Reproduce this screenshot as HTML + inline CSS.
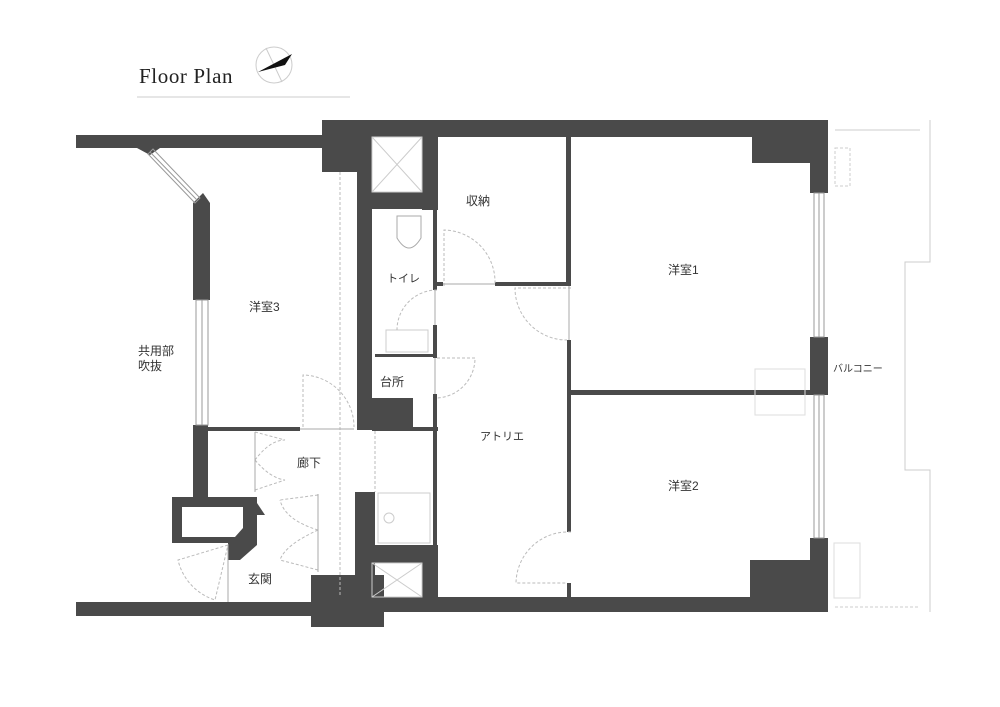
<!DOCTYPE html>
<html><head><meta charset="utf-8"><style>
html,body{margin:0;padding:0;background:#fff;}
svg{display:block}
text{font-family:"Liberation Sans","Noto Sans CJK JP",sans-serif;font-size:12px;fill:#333}
</style></head><body>
<svg width="1000" height="707" viewBox="0 0 1000 707" xmlns="http://www.w3.org/2000/svg">
<!-- title -->
<text x="139" y="83" style="font-family:'Liberation Serif',serif;font-size:21px;letter-spacing:0.6px;fill:#222">Floor Plan</text>
<line x1="137" y1="97" x2="350" y2="97" stroke="#ddd" stroke-width="1.5"/>
<circle cx="274" cy="65" r="18" fill="none" stroke="#ccc"/>
<line x1="266" y1="48" x2="282" y2="82" stroke="#ccc"/>
<polygon points="258,72 292,54 285,65" fill="#111"/>

<g fill="#4a4a4a">
<rect x="76" y="135" width="250" height="13"/>
<polygon points="137,148 160,148 150,155"/>
<polygon points="193,203 203,193 210,203 210,300 193,300"/>
<rect x="193" y="425" width="15" height="72"/>
<path d="M172,497 H257 V545 L240,560 H228 V543 H172 Z M182,507 V537 H235 L243,528 V507 Z" fill-rule="evenodd"/>
<polygon points="257,503 265,515 257,515"/>
<rect x="76" y="602" width="240" height="14"/>
<rect x="311" y="575" width="73" height="52"/>
<rect x="384" y="597" width="444" height="15"/>
<rect x="322" y="120" width="506" height="17"/>
<rect x="322" y="137" width="35" height="35"/>
<rect x="357" y="137" width="15" height="293"/>
<rect x="422" y="137" width="16" height="73"/>
<rect x="372" y="192" width="66" height="17"/>
<rect x="372" y="398" width="41" height="30"/>
<rect x="355" y="492" width="20" height="100"/>
<rect x="372" y="545" width="66" height="18"/>
<rect x="422" y="545" width="16" height="55"/>
<rect x="752" y="137" width="76" height="26"/>
<rect x="810" y="137" width="18" height="56"/>
<rect x="810" y="337" width="18" height="58"/>
<rect x="810" y="538" width="18" height="62"/>
<rect x="750" y="560" width="78" height="40"/>
<rect x="566" y="137" width="5" height="148"/>
<rect x="495" y="282" width="76" height="4"/>
<rect x="437" y="282" width="6" height="4"/>
<rect x="567" y="340" width="4" height="192"/>
<rect x="567" y="583" width="4" height="15"/>
<rect x="571" y="390" width="239" height="5"/>
<rect x="433" y="210" width="4" height="80"/>
<rect x="433" y="325" width="4" height="33"/>
<rect x="433" y="394" width="4" height="34"/>
<rect x="375" y="354" width="58" height="3"/>
<rect x="208" y="427" width="92" height="4"/>
<rect x="372" y="427" width="66" height="4"/>
<rect x="433" y="431" width="4" height="166"/>
</g>
<g fill="none" stroke="#999" stroke-width="1">
<rect x="196" y="300" width="12" height="125"/>
<line x1="202" y1="300" x2="202" y2="425"/>
<rect x="814" y="193" width="10" height="144"/>
<line x1="819" y1="193" x2="819" y2="337"/>
<rect x="814" y="395" width="10" height="143"/>
<line x1="819" y1="395" x2="819" y2="538"/>
<polygon points="148,154 153,149 200,198 195,203"/>
<line x1="150" y1="152" x2="197" y2="200"/>
<rect x="372" y="137" width="50" height="55" stroke="#ccc"/>
<line x1="372" y1="137" x2="422" y2="192" stroke="#ccc"/><line x1="422" y1="137" x2="372" y2="192" stroke="#ccc"/>
<rect x="372" y="563" width="50" height="34" stroke="#ccc"/>
<line x1="372" y1="563" x2="422" y2="597" stroke="#ccc"/><line x1="422" y1="563" x2="372" y2="597" stroke="#ccc"/>
<path d="M397,216 H421 V238 Q409,258 397,238 Z" stroke="#aaa"/>
<rect x="386" y="330" width="42" height="22" stroke="#ccc"/>
<rect x="378" y="493" width="52" height="50" stroke="#ccc"/>
<circle cx="389" cy="518" r="5" stroke="#ccc"/>
<polyline points="835,130 920,130" stroke="#ccc"/>
<polyline points="930,120 930,262 905,262 905,470 930,470 930,612" stroke="#ccc"/>
<line x1="835" y1="607" x2="920" y2="607" stroke="#ccc" stroke-dasharray="3,2"/>
<rect x="835" y="148" width="15" height="38" stroke="#ccc" stroke-dasharray="3,2"/>
<rect x="834" y="543" width="26" height="55" stroke="#ddd"/>
<rect x="755" y="369" width="50" height="46" stroke="#ddd"/>
<g stroke="#bbb" stroke-dasharray="3,2">
<path d="M444,286 V230 A52,52 0 0 1 495,283"/>
<path d="M571,288 H515 A52,52 0 0 0 567,340"/>
<path d="M571,532 A52,52 0 0 0 516,583 H567"/>
<path d="M437,358 H475 A40,40 0 0 1 437,398"/>
<path d="M437,290 A40,40 0 0 0 397,330"/>
<path d="M303,427 V375 A52,52 0 0 1 354,427"/>
<path d="M255,432 L285,440 M255,490 L285,480 M255,460 Q270,440 285,440 M255,460 Q270,478 285,480"/>
<path d="M318,495 L280,500 M318,570 L280,560 M318,530 Q285,520 280,500 M318,530 Q285,545 280,560"/>
<path d="M228,545 L178,560 A55,55 0 0 0 215,600 Z"/>
<line x1="340" y1="172" x2="340" y2="597"/>
<line x1="375" y1="431" x2="375" y2="492"/>
</g>
<line x1="255" y1="432" x2="255" y2="492" stroke="#aaa"/>
<line x1="318" y1="494" x2="318" y2="572" stroke="#aaa"/>
<line x1="228" y1="545" x2="228" y2="602" stroke="#aaa"/>
<line x1="300" y1="429" x2="354" y2="429" stroke="#aaa"/>
<line x1="443" y1="284" x2="495" y2="284" stroke="#aaa"/>
<line x1="569" y1="286" x2="569" y2="340" stroke="#aaa"/>
<line x1="435" y1="290" x2="435" y2="325" stroke="#aaa"/>
<line x1="435" y1="358" x2="435" y2="394" stroke="#aaa"/>
</g>
<text x="466" y="205">収納</text>
<text x="668" y="274">洋室1</text>
<text x="668" y="490">洋室2</text>
<text x="249" y="311">洋室3</text>
<text x="138" y="355">共用部</text>
<text x="138" y="370">吹抜</text>
<text x="387" y="282" style="font-size:11px">トイレ</text>
<text x="380" y="386">台所</text>
<text x="480" y="440" style="font-size:11px">アトリエ</text>
<text x="297" y="467">廊下</text>
<text x="248" y="583">玄関</text>
<text x="833" y="372" style="font-size:10px">バルコニー</text>
</svg>
</body></html>
